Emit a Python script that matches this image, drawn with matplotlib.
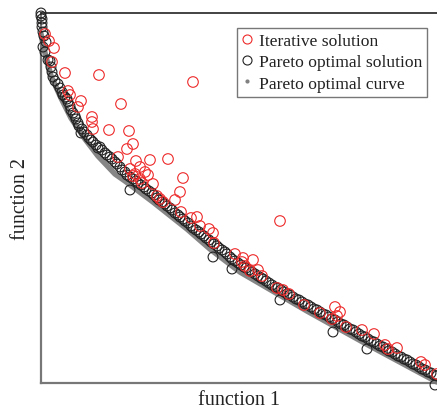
import matplotlib
matplotlib.use("Agg")
import matplotlib.pyplot as plt
from matplotlib.lines import Line2D

plt.rcParams['font.family'] = ['Liberation Serif', 'DejaVu Serif']

# Pareto optimal curve (function 1, function 2)
curve_f1 = [0, 4, 10, 20, 30, 44, 57, 74, 84, 112, 146, 169, 199, 266, 329, 396]
curve_f2 = [349, 330, 307, 285, 265, 244, 227, 209, 202, 181, 154, 134, 111, 72, 37, 1]

# Pareto optimal solutions
pareto_f1 = [0, 0, 1, 1, 1, 2, 3, 2, 5, 4, 7, 9, 10, 11, 12, 14, 17, 19, 21, 22, 24, 26, 27, 29,
             30, 32, 34, 35, 37, 38, 40, 41, 43, 46, 48, 50, 52, 55, 57, 59, 61, 64, 66, 69, 71,
             74, 76, 79, 81, 84, 86, 89, 89, 92, 95, 97, 100, 103, 105, 108, 111, 113, 116, 118,
             121, 124, 126, 129, 131, 134, 137, 139, 142, 144, 147, 150, 152, 155, 158, 160, 163,
             165, 168, 172, 170, 173, 176, 178, 181, 184, 186, 189, 191, 191, 194, 197, 200, 203,
             205, 208, 211, 214, 217, 220, 222, 225, 228, 231, 234, 237, 239, 240, 243, 246, 249,
             252, 255, 258, 261, 264, 267, 270, 273, 276, 279, 282, 285, 288, 291, 292, 294, 297,
             300, 303, 306, 309, 312, 315, 318, 321, 324, 326, 327, 330, 333, 336, 339, 342, 345,
             348, 351, 354, 357, 360, 363, 366, 369, 372, 375, 378, 381, 384, 387, 390, 393, 396, 394]
pareto_f2 = [370, 367, 364, 360, 356, 351, 347, 336, 341, 331, 323, 322, 316, 311, 306, 302, 299,
             295, 291, 288, 286, 284, 281, 277, 273, 270, 267, 264, 260, 257, 250, 254, 251, 248,
             245, 243, 241, 238, 235, 236, 233, 230, 228, 226, 224, 221, 219, 216, 213, 211, 208,
             206, 193, 204, 202, 200, 198, 196, 194, 192, 190, 188, 185, 183, 181, 179, 177, 175,
             173, 170, 168, 166, 164, 162, 160, 157, 155, 153, 151, 149, 147, 145, 143, 126, 141,
             139, 137, 135, 133, 131, 129, 126, 124, 114, 122, 120, 118, 116, 115, 113, 111, 109,
             107, 105, 104, 102, 100, 98, 96, 95, 83, 93, 91, 89, 88, 86, 84, 83, 81, 79, 78, 76,
             74, 73, 71, 69, 68, 66, 64, 51, 63, 61, 59, 58, 56, 54, 53, 51, 49, 47, 46, 34, 44,
             42, 41, 39, 37, 36, 34, 32, 31, 29, 27, 26, 24, 23, 21, 19, 18, 16, 14, 13, 11, 10, 8,
             7, -2]

# Iterative solutions
iter_f1 = [4, 8, 13, 11, 24, 58, 152, 27, 40, 80, 51, 51, 52, 68, 88, 92, 86, 95, 109, 127, 77,
           104, 107, 142, 139, 134, 119, 116, 122, 140, 150, 159, 168, 172, 173, 194, 202, 201,
           212, 217, 239, 236, 242, 248, 263, 294, 299, 296, 291, 279, 305, 321, 333, 344, 347,
           356, 380, 384, 396, 99, 101, 92, 112, 156, 94, 209, 29, 37, 99, 89, 221, 204]
iter_f2 = [349, 342, 335, 321, 310, 308, 301, 292, 282, 279, 266, 261, 254, 253, 252, 239, 234,
           222, 223, 224, 226, 211, 208, 205, 191, 183, 184, 187, 181, 171, 165, 157, 154, 150,
           140, 129, 125, 121, 123, 113, 162, 95, 93, 89, 78, 76, 71, 67, 64, 70, 56, 53, 49, 38,
           34, 35, 21, 18, 9, 204, 200, 207, 199, 166, 209, 112, 288, 276, 216, 214, 107, 117]

W, H = 437, 410
fig = plt.figure(figsize=(W / 100, H / 100), dpi=100)
ax = fig.add_axes([41 / W, (410 - 384) / H, (437 - 41) / W, 370 / H])

ax.plot(curve_f1, curve_f2, color='#858585', lw=4.0, solid_capstyle='round',
        solid_joinstyle='round', clip_on=False, zorder=2)
ax.scatter(pareto_f1, pareto_f2, s=50, facecolors='none', edgecolors='#222222',
           linewidths=0.8, clip_on=False, zorder=3)
ax.scatter(iter_f1, iter_f2, s=58, facecolors='none', edgecolors='#ee2a2a',
           linewidths=0.8, clip_on=False, zorder=4)

ax.set_xlim(0, 396)
ax.set_ylim(0, 370)
ax.set_xticks([])
ax.set_yticks([])
ax.spines['right'].set_visible(False)
ax.spines['left'].set_color('#777777')
ax.spines['bottom'].set_color('#777777')
ax.spines['left'].set_linewidth(1.6)
ax.spines['bottom'].set_linewidth(1.6)
ax.spines['top'].set_color('#222222')
ax.spines['top'].set_linewidth(1.2)

ax.set_xlabel('function 1', fontsize=14.5, color='#222222', labelpad=5)
ax.set_ylabel('function 2', fontsize=14.5, color='#222222', labelpad=8)

handles = [
    Line2D([], [], ls='none', marker='o', markersize=6.5, markerfacecolor='none',
           markeredgecolor='#ee2a2a', markeredgewidth=0.8),
    Line2D([], [], ls='none', marker='o', markersize=6.5, markerfacecolor='none',
           markeredgecolor='#222222', markeredgewidth=0.8),
    Line2D([], [], ls='none', marker='.', markersize=4, color='#808080'),
]
labels = ['Iterative solution', 'Pareto optimal solution', 'Pareto optimal curve']
leg = ax.legend(handles, labels, loc='upper right', bbox_to_anchor=(0.975, 0.959),
                borderaxespad=0, fontsize=12.6, frameon=True, fancybox=False,
                handlelength=0.6, handletextpad=0.35, labelspacing=0.28,
                borderpad=0.28, edgecolor='#555555')
leg.get_frame().set_linewidth(1.0)
for t in leg.get_texts():
    t.set_color('#222222')

fig.savefig('out.png', dpi=100)
